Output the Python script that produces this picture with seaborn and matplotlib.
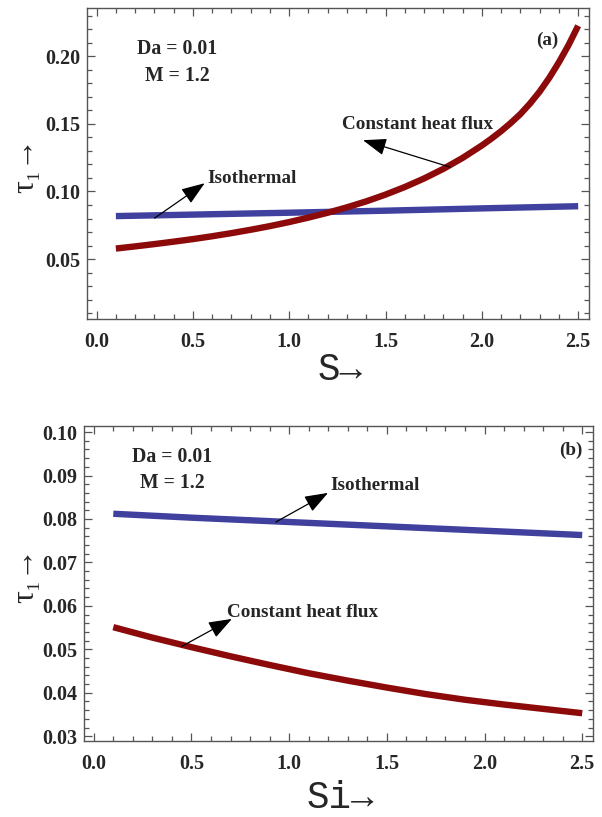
import matplotlib
matplotlib.use("Agg")
import matplotlib.pyplot as plt
from matplotlib.ticker import MultipleLocator, FormatStrFormatter
import numpy as np
import pandas as pd
import seaborn as sns

# ---- data -------------------------------------------------------------
# (a) tau_1 versus S
s_chf = [0.1, 0.2, 0.3, 0.4, 0.5, 0.6, 0.7, 0.8, 0.9, 1.0, 1.1, 1.2, 1.3,
         1.4, 1.5, 1.6, 1.7, 1.8, 1.9, 2.0, 2.05, 2.1, 2.15, 2.2, 2.25, 2.3,
         2.35, 2.4, 2.45, 2.5]
tau_chf_a = [0.0578, 0.0594, 0.0611, 0.0629, 0.0648, 0.0669, 0.0692, 0.0717,
             0.0744, 0.0774, 0.0807, 0.0843, 0.0883, 0.0927, 0.0977, 0.1033,
             0.1096, 0.1167, 0.1248, 0.1340, 0.1391, 0.1446, 0.1506, 0.1572,
             0.1650, 0.1738, 0.1840, 0.1955, 0.2082, 0.2225]
s_iso = [0.1, 0.5, 1.0, 1.5, 2.0, 2.5]
tau_iso_a = [0.0818, 0.0829, 0.0843, 0.0858, 0.0875, 0.0891]

# (b) tau_1 versus Si
si_chf = [0.1, 0.3, 0.5, 0.7, 0.9, 1.1, 1.3, 1.5, 1.7, 1.9, 2.1, 2.3, 2.5]
tau_chf_b = [0.0551, 0.0527, 0.0505, 0.0484, 0.0464, 0.0445, 0.0428, 0.0412,
             0.0397, 0.0384, 0.0373, 0.0363, 0.0353]
si_iso = [0.1, 0.5, 1.0, 1.5, 2.0, 2.5]
tau_iso_b = [0.0812, 0.0803, 0.0793, 0.0783, 0.0773, 0.0763]

x_ticks = [0.0, 0.5, 1.0, 1.5, 2.0, 2.5]
y_ticks_a = [0.05, 0.10, 0.15, 0.20]
y_ticks_b = [0.03, 0.04, 0.05, 0.06, 0.07, 0.08, 0.09, 0.10]

RED = "#8c0a0a"
BLUE = "#40409e"

sns.set_theme(style="ticks")
plt.rcParams["font.family"] = ["Liberation Serif", "DejaVu Serif"]
plt.rcParams["font.weight"] = "bold"

fig = plt.figure(figsize=(6.02, 8.17), dpi=100)
ax_a = fig.add_axes([0.1445, 0.6095, 0.8335, 0.3805])
ax_b = fig.add_axes([0.1395, 0.093, 0.8455, 0.3856])


def style_axes(ax, yticks, ymajor_minor):
    ax.set_xlim(-0.05, 2.555)
    ax.set_xticks(x_ticks)
    ax.xaxis.set_minor_locator(MultipleLocator(0.1))
    ax.yaxis.set_minor_locator(MultipleLocator(ymajor_minor))
    ax.set_yticks(yticks)
    ax.xaxis.set_major_formatter(FormatStrFormatter("%.1f"))
    ax.yaxis.set_major_formatter(FormatStrFormatter("%.2f"))
    for sp in ax.spines.values():
        sp.set_visible(True)
        sp.set_color("#555555")
        sp.set_linewidth(1.0)
    ax.tick_params(which="both", direction="in", top=True, right=True,
                   color="#555555", width=0.9)
    ax.tick_params(which="major", length=6)
    ax.tick_params(which="minor", length=3.5)
    ax.tick_params(axis="x", which="major", pad=9, labelsize=14.5)
    ax.tick_params(axis="y", which="major", pad=5, labelsize=14.5)
    for lbl in ax.get_xticklabels() + ax.get_yticklabels():
        lbl.set_fontweight("bold")
    ax.set_xlabel("")
    ax.set_ylabel("")


def draw(ax, x1, y1, x2, y2):
    d1 = pd.DataFrame({"x": x1, "tau": y1})
    d2 = pd.DataFrame({"x": x2, "tau": y2})
    sns.lineplot(data=d2, x="x", y="tau", ax=ax, color=BLUE, lw=4.6,
                 solid_capstyle="butt", solid_joinstyle="round")
    sns.lineplot(data=d1, x="x", y="tau", ax=ax, color=RED, lw=4.6,
                 solid_capstyle="butt", solid_joinstyle="round")


arrow_kw = dict(arrowstyle="-|>,head_length=0.6,head_width=0.22",
                color="black", lw=0.9, mutation_scale=24,
                shrinkA=0, shrinkB=0)
txt_kw = dict(fontsize=13.8, fontweight="bold", family="Liberation Serif")
par_kw = dict(fontsize=14.2, fontweight="bold", family="Liberation Serif")

# ---- panel (a) ---------------------------------------------------------
draw(ax_a, s_chf, tau_chf_a, s_iso, tau_iso_a)
ax_a.set_ylim(0.0057, 0.2355)
style_axes(ax_a, y_ticks_a, 0.01)
ax_a.text(0.42, 0.205, "Da = 0.01", ha="center", va="center", **par_kw)
ax_a.text(0.42, 0.185, "M = 1.2", ha="center", va="center", **par_kw)
ax_a.text(2.34, 0.2115, "(a)", ha="center", va="center", **txt_kw)
ax_a.annotate("", xy=(0.561, 0.1061), xytext=(0.301, 0.0803),
              arrowprops=arrow_kw)
ax_a.text(0.577, 0.1095, "Isothermal", ha="left", va="center", **txt_kw)
ax_a.annotate("", xy=(1.383, 0.1379), xytext=(1.835, 0.118),
              arrowprops=arrow_kw)
ax_a.text(1.668, 0.1495, "Constant heat flux", ha="center", va="center",
          **txt_kw)

# ---- panel (b) ---------------------------------------------------------
draw(ax_b, si_chf, tau_chf_b, si_iso, tau_iso_b)
ax_b.set_ylim(0.0289, 0.1014)
style_axes(ax_b, y_ticks_b, 0.002)
ax_b.text(0.40, 0.0943, "Da = 0.01", ha="center", va="center", **par_kw)
ax_b.text(0.40, 0.0883, "M = 1.2", ha="center", va="center", **par_kw)
ax_b.text(2.44, 0.0958, "(b)", ha="center", va="center", **txt_kw)
ax_b.annotate("", xy=(1.199, 0.0860), xytext=(0.932, 0.0793),
              arrowprops=arrow_kw)
ax_b.text(1.209, 0.0877, "Isothermal", ha="left", va="center", **txt_kw)
ax_b.annotate("", xy=(0.707, 0.0570), xytext=(0.451, 0.0507),
              arrowprops=arrow_kw)
ax_b.text(0.681, 0.0585, "Constant heat flux", ha="left", va="center",
          **txt_kw)

# ---- axis labels -------------------------------------------------------
fig.text(340 / 602, 1 - 370 / 817, "S\u2192", ha="center", va="center",
         fontsize=27, family="Liberation Mono", fontweight="normal")
fig.text(340 / 602, 1 - 798 / 817, "Si\u2192", ha="center", va="center",
         fontsize=27, family="Liberation Mono", fontweight="normal")
for yc in (165, 575):
    fig.text(26 / 602, 1 - yc / 817, "\u03c4\u2081\u2192", rotation=90,
             ha="center", va="center", fontsize=23,
             family=["Liberation Serif", "DejaVu Serif"], fontweight="normal")

fig.savefig("out.png", dpi=100)
